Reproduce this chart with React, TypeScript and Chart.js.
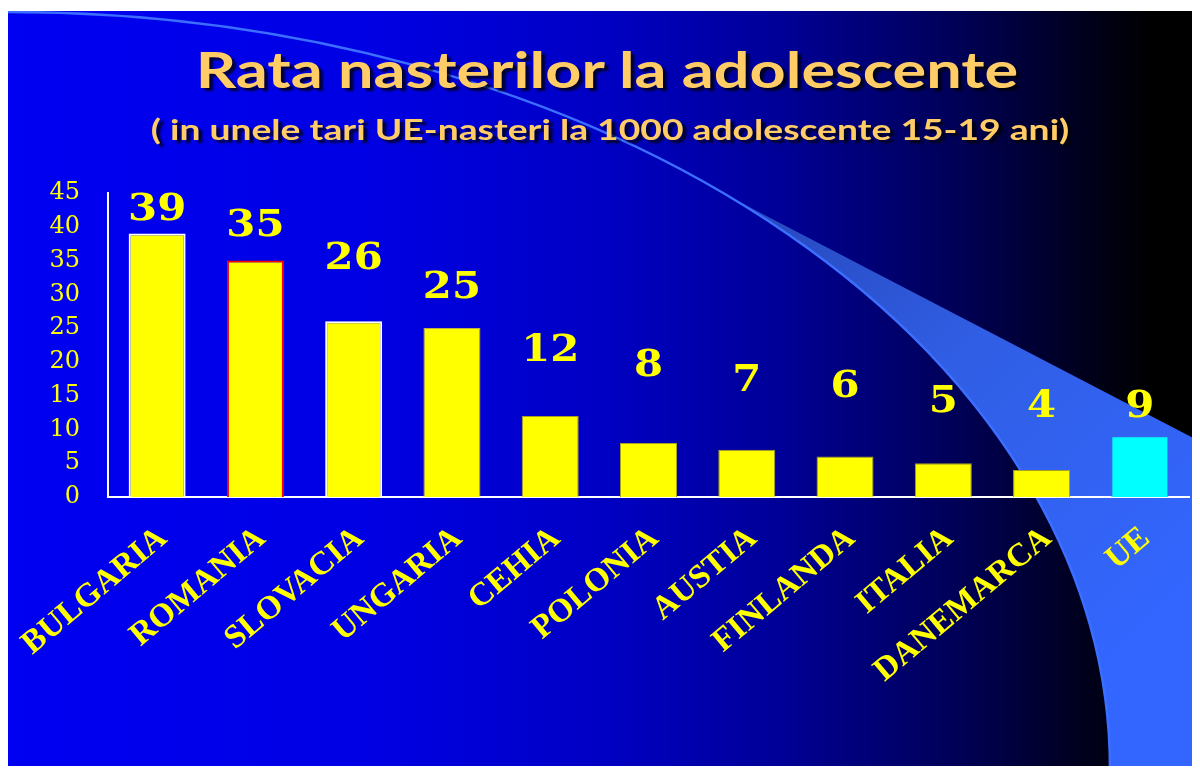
import React, { useEffect, useRef } from "react";
import { Chart, registerables } from "chart.js";

Chart.register(...registerables);

// ---- data ----
const CATEGORIES = [
  "BULGARIA",
  "ROMANIA",
  "SLOVACIA",
  "UNGARIA",
  "CEHIA",
  "POLONIA",
  "AUSTIA",
  "FINLANDA",
  "ITALIA",
  "DANEMARCA",
  "UE",
];
const VALUES = [39, 35, 26, 25, 12, 8, 7, 6, 5, 4, 9];
const Y_MIN = 0;
const Y_MAX = 45;
const Y_STEP = 5;
const TITLE = "Rata nasterilor la adolescente";
const SUBTITLE = "( in unele tari UE-nasteri la 1000 adolescente 15-19 ani)";

// ---- styles ----
const BAR_FILL = ["#FFFF00", "#FFFF00", "#FFFF00", "#FFFF00", "#FFFF00", "#FFFF00", "#FFFF00", "#FFFF00", "#FFFF00", "#FFFF00", "#00FFFF"];
const BAR_BORDER = ["#FFFFFF", "#FF0000", "#FFFFFF", "#B8B040", "#A8A020", "#A8A020", "#A8A020", "#A8A020", "#A8A020", "#A8A020", "#3A70E0"];
const BAR_BORDER_WIDTH = [2, 2, 2, 1, 1, 1, 1, 1, 1, 1, 1];
// vertical gap (px) between each bar top and its value label baseline
const LABEL_GAP = [14, 25, 52, 30, 55, 67, 59, 59, 51, 53, 19];

const W = 1192;
const H = 758;

const backgroundPlugin = {
  id: "slideBackground",
  beforeDraw(chart: any) {
    const ctx = chart.ctx as CanvasRenderingContext2D;
    ctx.save();
    const g = ctx.createLinearGradient(0, 0, W, 0);
    g.addColorStop(0, "rgb(0,0,242)");
    g.addColorStop(0.3, "rgb(0,0,228)");
    g.addColorStop(0.5, "rgb(0,0,196)");
    g.addColorStop(0.65, "rgb(0,0,150)");
    g.addColorStop(0.8, "rgb(0,0,85)");
    g.addColorStop(0.91, "rgb(0,0,25)");
    g.addColorStop(0.96, "rgb(0,0,0)");
    g.addColorStop(1, "rgb(0,0,0)");
    ctx.fillStyle = g;
    ctx.fillRect(0, 0, W, H);

    // swoosh
    const cx = 0;
    const cy = 758;
    const rx = 1102;
    const ry = 757;
    const th0 = -Math.acos(722 / rx);
    const sx = cx + rx * Math.cos(th0);
    const sy = cy + ry * Math.sin(th0);
    ctx.beginPath();
    ctx.moveTo(sx, sy);
    ctx.lineTo(W, sy + (W - sx) * 0.52);
    ctx.lineTo(W, H);
    ctx.lineTo(cx + rx, cy);
    ctx.ellipse(cx, cy, rx, ry, 0, 0, th0, true);
    ctx.closePath();
    const fg = ctx.createLinearGradient(sx, sy, 1150, 620);
    fg.addColorStop(0, "rgb(38,70,185)");
    fg.addColorStop(0.45, "rgb(48,94,228)");
    fg.addColorStop(1, "rgb(51,102,255)");
    ctx.fillStyle = fg;
    ctx.fill();

    ctx.beginPath();
    ctx.ellipse(cx, cy, rx, ry, 0, -Math.PI / 2, 0);
    ctx.strokeStyle = "rgb(60,110,255)";
    ctx.lineWidth = 2.5;
    ctx.stroke();
    ctx.restore();
  },
};

const valueLabelPlugin = {
  id: "valueLabels",
  afterDatasetsDraw(chart: any) {
    const ctx = chart.ctx as CanvasRenderingContext2D;
    const meta = chart.getDatasetMeta(0);
    meta.data.forEach((bar: any, i: number) => {
      ctx.save();
      ctx.font = "bold 38px 'DejaVu Serif'";
      ctx.fillStyle = "#FFFF00";
      ctx.textAlign = "center";
      ctx.textBaseline = "alphabetic";
      ctx.translate(bar.x, bar.y - LABEL_GAP[i]);
      ctx.scale(1.1, 1);
      ctx.fillText(String(VALUES[i]), 0, 0);
      ctx.restore();
    });
  },
};

export default function App() {
  const ref = useRef<HTMLCanvasElement | null>(null);

  useEffect(() => {
    if (!ref.current) return;
    const chart = new Chart(ref.current, {
      type: "bar",
      data: {
        labels: CATEGORIES,
        datasets: [
          {
            data: VALUES,
            backgroundColor: BAR_FILL,
            borderColor: BAR_BORDER,
            borderWidth: BAR_BORDER_WIDTH,
            barPercentage: 0.58,
            categoryPercentage: 1,
          },
        ],
      },
      options: {
        responsive: false,
        animation: false,
        devicePixelRatio: 1,
        layout: { padding: { top: 182, right: 11, left: 0, bottom: 0 } },
        plugins: {
          legend: { display: false },
          tooltip: { enabled: false },
          title: { display: false },
        },
        scales: {
          y: {
            min: Y_MIN,
            max: Y_MAX,
            ticks: {
              stepSize: Y_STEP,
              color: "#FFFF00",
              font: { family: "'DejaVu Serif'", size: 24 },
              padding: 28,
            },
            grid: { display: false, drawTicks: false },
            border: { display: true, color: "#FFFFFF", width: 2 },
            afterFit: (s: any) => {
              s.width = 100;
            },
          },
          x: {
            ticks: {
              color: "#FFFF00",
              font: { family: "'Liberation Serif'", size: 33, weight: "bold" },
              minRotation: 40,
              maxRotation: 40,
              autoSkip: false,
              padding: 22,
              labelOffset: 6,
            },
            grid: { display: false, drawTicks: false },
            border: { display: true, color: "#FFFFFF", width: 2 },
            afterFit: (s: any) => {
              s.height = 272;
              s.paddingLeft = 0;
              s.paddingRight = 0;
            },
          },
        },
      },
      plugins: [backgroundPlugin, valueLabelPlugin],
    });
    return () => chart.destroy();
  }, []);

  const titleBase: React.CSSProperties = {
    position: "absolute",
    width: W,
    textAlign: "center",
    fontFamily: "Lato, 'Open Sans', sans-serif",
    fontWeight: 700,
    color: "#FFCC66",
    whiteSpace: "nowrap",
    textShadow: "3px 3px 2px rgba(0,0,0,0.75)",
    transformOrigin: "center",
  };

  return (
    <div style={{ position: "relative", top: 3, width: W, height: H }}>
      <canvas ref={ref} width={W} height={H} style={{ display: "block" }} />
      <div style={{ ...titleBase, left: 3, top: 33, fontSize: 50, lineHeight: "50px", transform: "scaleX(1.26)" }}>
        {TITLE}
      </div>
      <div style={{ ...titleBase, left: 6, top: 104, fontSize: 28, lineHeight: "28px", transform: "scaleX(1.33)" }}>
        {SUBTITLE}
      </div>
    </div>
  );
}
